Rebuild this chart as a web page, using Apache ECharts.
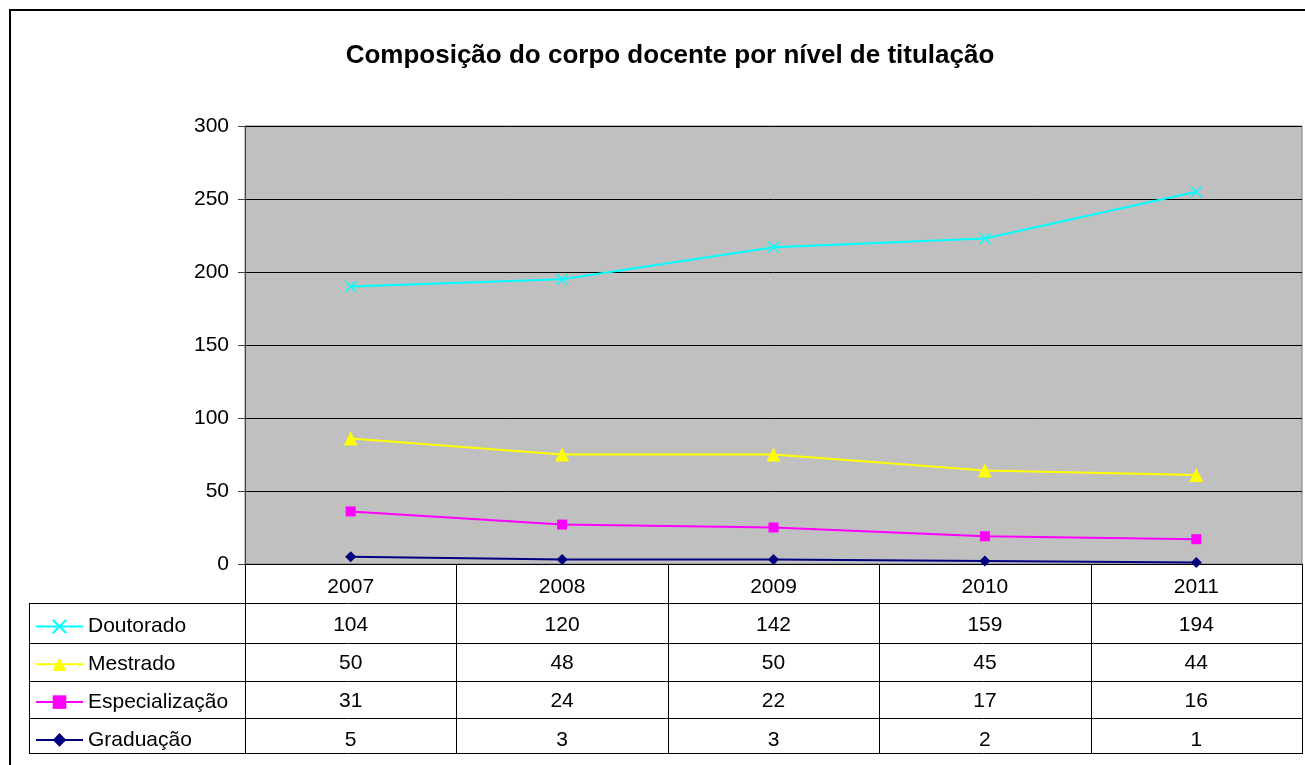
<!DOCTYPE html>
<html>
<head>
<meta charset="utf-8">
<script src="https://cdn.jsdelivr.net/npm/echarts@6/dist/echarts.min.js"></script>
<style>
html,body{margin:0;padding:0;background:#fff;}
#chart{width:1305px;height:765px;}
</style>
</head>
<body>
<div id="chart"></div>
<script>
var anos = ['2007', '2008', '2009', '2010', '2011'];
var doutorado = [104, 120, 142, 159, 194];
var mestrado = [50, 48, 50, 45, 44];
var especializacao = [31, 24, 22, 17, 16];
var graduacao = [5, 3, 3, 2, 1];
var yTicks = [0, 50, 100, 150, 200, 250, 300];

// plot area / data table layout
var gL = 245, gR = 1302, gT = 126, gB = 564, tabL = 29;
var rowY = [564, 603, 643, 681, 718, 753];   // table row boundaries
var rowH = 38.2;
var colW = (gR - gL) / anos.length;
var fs = 21;

var tabela = [doutorado, mestrado, especializacao, graduacao];

var linhas = [];
// horizontal rules
for (var r = 1; r < rowY.length; r++) {
    var y = rowY[r] + 0.5;
    linhas.push({type: 'line', shape: {x1: tabL, y1: y, x2: gR, y2: y}, style: {stroke: '#000', lineWidth: 1}});
}
// vertical rules
var fim = rowY[rowY.length - 1] + 1;
for (var c = 0; c <= anos.length; c++) {
    var x = Math.round(gL + c * colW) + 0.5;
    linhas.push({type: 'line', shape: {x1: x, y1: gB, x2: x, y2: fim}, style: {stroke: '#000', lineWidth: 1}});
}
linhas.push({type: 'line', shape: {x1: tabL + 0.5, y1: rowY[1], x2: tabL + 0.5, y2: fim}, style: {stroke: '#000', lineWidth: 1}});
// outer chart border
linhas.push({type: 'rect', shape: {x: 10, y: 10, width: 1320, height: 800}, style: {fill: 'none', stroke: '#000', lineWidth: 2}});

var xSym = 'path://M0,0L10,10M10,0L0,10';

var chart = echarts.init(document.getElementById('chart'));
chart.setOption({
    animation: false,
    textStyle: {fontFamily: 'Liberation Sans, Arial, sans-serif'},
    title: {
        text: 'Composição do corpo docente por nível de titulação',
        left: 665, top: 38, textAlign: 'center',
        textStyle: {fontSize: 26, fontWeight: 'bold', color: '#000', fontFamily: 'Liberation Sans, Arial, sans-serif'}
    },
    legend: {
        orient: 'vertical',
        left: 35,
        padding: 0,
        top: 616,
        itemWidth: 47,
        itemHeight: 17,
        itemGap: 37.8 - fs,
        data: ['Doutorado', 'Mestrado', 'Especialização', 'Graduação'],
        textStyle: {fontSize: fs, lineHeight: fs, color: '#000', padding: [0, 0, 0, 0]}
    },
    grid: {
        left: gL, right: 1305 - gR, top: gT, bottom: 765 - gB,
        show: true, backgroundColor: '#c0c0c0', borderColor: '#808080', borderWidth: 1
    },
    xAxis: {
        type: 'category',
        data: anos,
        boundaryGap: true,
        axisLine: {lineStyle: {color: '#000', width: 1}},
        axisTick: {show: false},
        axisLabel: {
            margin: 4,
            fontSize: fs,
            lineHeight: rowH,
            color: '#000',
            formatter: function (v, i) {
                return [v].concat(tabela.map(function (s) { return s[i]; })).join('\n');
            }
        }
    },
    yAxis: {
        type: 'value',
        min: yTicks[0], max: yTicks[yTicks.length - 1], interval: 50,
        axisLine: {show: true, lineStyle: {color: '#404040'}},
        axisTick: {show: true, length: 7, lineStyle: {color: '#404040'}},
        axisLabel: {fontSize: fs, color: '#000', margin: 16},
        splitLine: {lineStyle: {color: '#000', width: 1}}
    },
    series: [
        {
            name: 'Graduação', type: 'line', stack: 'total', data: graduacao,
            symbol: 'diamond', symbolSize: 11,
            lineStyle: {color: '#000080', width: 2},
            itemStyle: {color: '#000080'}
        },
        {
            name: 'Especialização', type: 'line', stack: 'total', data: especializacao,
            symbol: 'rect', symbolSize: 10,
            lineStyle: {color: '#ff00ff', width: 2},
            itemStyle: {color: '#ff00ff'}
        },
        {
            name: 'Mestrado', type: 'line', stack: 'total', data: mestrado,
            symbol: 'triangle', symbolSize: 14,
            lineStyle: {color: '#ffff00', width: 2},
            itemStyle: {color: '#ffff00'}
        },
        {
            name: 'Doutorado', type: 'line', stack: 'total', data: doutorado,
            symbol: xSym, symbolSize: 11,
            lineStyle: {color: '#00ffff', width: 2},
            itemStyle: {color: '#00ffff', borderColor: '#00ffff', borderWidth: 1.5}
        }
    ],
    graphic: linhas
});
</script>
</body>
</html>
